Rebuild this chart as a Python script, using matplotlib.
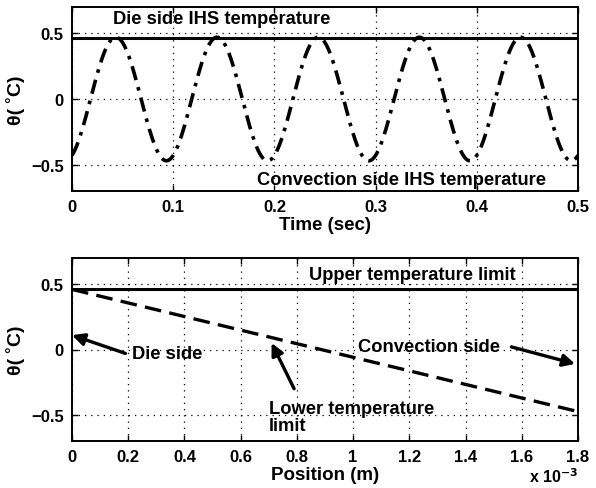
import numpy as np
import matplotlib
matplotlib.use("Agg")
import matplotlib.pyplot as plt

plt.rcParams['font.family'] = ['Liberation Sans', 'DejaVu Sans']
plt.rcParams['font.weight'] = 'bold'
plt.rcParams['axes.labelweight'] = 'bold'

# top panel: IHS temperatures over time
t_end = 0.5
die_side_temp = 0.465          # steady die-side IHS temperature (deg C)
conv_amp = 0.47                # convection-side oscillation amplitude
conv_period = 0.1              # seconds
conv_phase = -1.15             # rad at t = 0

# bottom panel: temperature across the IHS thickness
position = [0.0, 1.8e-3]
upper_limit = [0.465, 0.465]
lower_limit = [0.46, -0.475]

time_ticks = [0, 0.1, 0.2, 0.3, 0.4, 0.5]
pos_ticks = [0, 0.2e-3, 0.4e-3, 0.6e-3, 0.8e-3, 1.0e-3, 1.2e-3, 1.4e-3, 1.6e-3, 1.8e-3]
pos_ticklabels = ['0', '0.2', '0.4', '0.6', '0.8', '1', '1.2', '1.4', '1.6', '1.8']
temp_ticks = [-0.5, 0, 0.5]

TXT = 13.2

t = np.linspace(0, t_end, 800)
conv_temp = conv_amp * np.sin(2 * np.pi * t / conv_period + conv_phase)

fig = plt.figure(figsize=(5.96, 4.89), dpi=100)
ax1 = fig.add_axes([72 / 596, 1 - 192 / 489, 506 / 596, 184 / 489])
ax2 = fig.add_axes([72 / 596, 1 - 442 / 489, 506 / 596, 183 / 489])


def style_axes(ax):
    ax.set_ylim(-0.7, 0.7)
    ax.set_yticks(temp_ticks)
    ax.set_yticklabels(['\u22120.5', '0', '0.5'])
    ax.grid(True, linestyle=(0, (1, 4)), color='black', linewidth=0.9)
    ax.tick_params(direction='in', length=4, width=1, labelsize=12,
                   top=True, right=True, pad=6)
    for lbl in ax.get_xticklabels() + ax.get_yticklabels():
        lbl.set_fontweight('bold')
    for sp in ax.spines.values():
        sp.set_linewidth(1.4)
    ax.set_ylabel('\u03b8( \u02daC)', fontsize=14, fontweight='bold', labelpad=4)


ax1.plot([0, t_end], [die_side_temp, die_side_temp], color='black', linewidth=2.2)
ax1.plot(t, conv_temp, color='black', linewidth=2.6, linestyle=(0, (4, 2, 1, 2)))
ax1.set_xlim(0, t_end)
ax1.set_xticks(time_ticks)
ax1.set_xticklabels(['0', '0.1', '0.2', '0.3', '0.4', '0.5'])
style_axes(ax1)
ax1.set_xlabel('Time (sec)', fontsize=13.5, fontweight='bold', labelpad=1)
ax1.text(0.148, 0.61, 'Die side IHS temperature', ha='center', va='center',
         fontsize=TXT, fontweight='bold')
ax1.text(0.326, -0.615, 'Convection side IHS temperature', ha='center', va='center',
         fontsize=TXT, fontweight='bold')

ax2.plot(position, upper_limit, color='black', linewidth=2.2)
ax2.plot(position, lower_limit, color='black', linewidth=2.4, linestyle=(0, (5, 2.5)))
ax2.set_xlim(0, 1.8e-3)
ax2.set_xticks(pos_ticks)
ax2.set_xticklabels(pos_ticklabels)
style_axes(ax2)
ax2.set_xlabel('Position (m)', fontsize=13.5, fontweight='bold', labelpad=1)
ax2.text(1.0, -0.19, r'x 10$^{\mathbf{-3}}$', transform=ax2.transAxes, ha='right',
         va='center', fontsize=11.5, fontweight='bold')
ax2.text(1.21e-3, 0.57, 'Upper temperature limit', ha='center', va='center',
         fontsize=TXT, fontweight='bold')

arrow = dict(arrowstyle='-|>', color='black', linewidth=2.4, mutation_scale=18,
             shrinkA=0, shrinkB=0)
ax2.annotate('', xy=(0.0, 0.11), xytext=(0.19e-3, -0.03), arrowprops=arrow)
ax2.text(0.215e-3, -0.03, 'Die side', ha='left', va='center',
         fontsize=TXT, fontweight='bold')
ax2.annotate('Convection side', xy=(1.79e-3, -0.11), xytext=(1.27e-3, 0.02),
             ha='center', va='center', fontsize=TXT, fontweight='bold',
             arrowprops=dict(arrow, relpos=(1.08, 0.5)))
ax2.annotate('', xy=(0.71e-3, 0.05), xytext=(0.79e-3, -0.3), arrowprops=arrow)
ax2.text(0.70e-3, -0.52, 'Lower temperature\nlimit', ha='left', va='center',
         fontsize=TXT, fontweight='bold', linespacing=1.0)

fig.savefig('out.png', dpi=100)
